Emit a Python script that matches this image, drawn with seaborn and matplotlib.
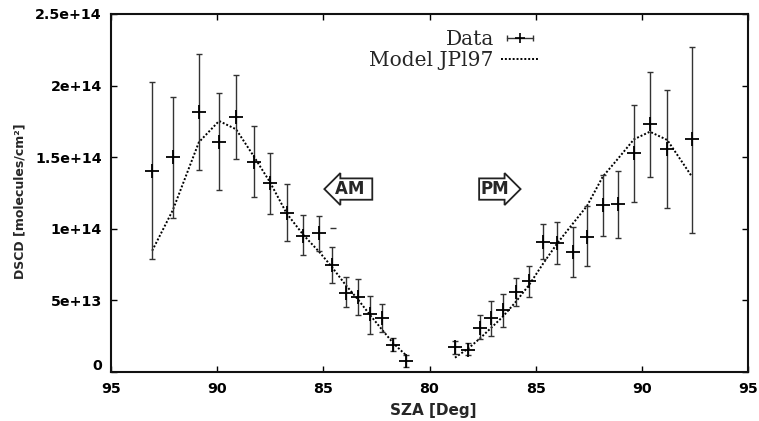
import numpy as np
import pandas as pd
import matplotlib
matplotlib.use("Agg")
import matplotlib.pyplot as plt
import seaborn as sns
from matplotlib.lines import Line2D
from matplotlib.legend_handler import HandlerLine2D, HandlerTuple
from matplotlib.transforms import ScaledTranslation
from matplotlib.font_manager import FontProperties

# Slant column densities in units of 1e13 molecules/cm^2
UNIT = 1e13

# Morning (AM) leg, solar zenith angle in degrees
am_sza = [93.06, 92.09, 90.86, 89.91, 89.11, 88.27, 87.51, 86.73, 85.94,
          85.20, 84.61, 83.95, 83.35, 82.80, 82.22, 81.70, 81.12]
am_dscd = [14.06, 14.99, 18.14, 16.08, 17.83, 14.66, 13.22, 11.08, 9.52,
           9.69, 7.47, 5.54, 5.26, 4.03, 3.75, 1.89, 0.77]
am_low = [7.89, 10.78, 14.11, 12.73, 14.90, 12.20, 11.05, 9.17, 8.17,
          8.47, 6.19, 4.56, 3.98, 2.65, 2.81, 1.47, 0.37]
am_high = [20.25, 19.23, 22.21, 19.46, 20.76, 17.18, 15.31, 13.11, 10.96,
           10.91, 8.71, 6.61, 6.47, 5.33, 4.73, 2.35, 1.19]
am_model = [8.47, 11.30, 16.05, 17.53, 16.95, 15.05, 13.25, 11.08, 9.57,
            8.40, 7.36, 6.08, 5.03, 3.98, 2.93, 2.00, 1.19]

# Evening (PM) leg
pm_sza = [81.20, 81.83, 82.38, 82.88, 83.45, 84.07, 84.69, 85.36, 86.02,
          86.76, 87.42, 88.16, 88.89, 89.63, 90.38, 91.20, 92.36]
pm_dscd = [1.77, 1.54, 3.09, 3.75, 4.33, 5.61, 6.38, 9.06, 8.99,
           8.38, 9.45, 11.66, 11.71, 15.27, 17.32, 15.57, 16.25]
pm_low = [1.26, 1.19, 2.28, 2.53, 3.12, 4.61, 5.26, 7.87, 7.52,
          6.66, 7.42, 9.50, 9.38, 11.85, 13.64, 11.43, 9.69]
pm_high = [2.19, 2.00, 3.98, 4.96, 5.45, 6.59, 7.42, 10.31, 10.50,
           10.10, 11.61, 13.76, 14.04, 18.65, 20.97, 19.69, 22.72]
pm_model = [1.00, 1.65, 2.35, 3.05, 3.86, 4.91, 6.08, 7.59, 8.99,
            10.38, 11.60, 13.64, 14.92, 16.25, 16.78, 16.20, 13.64]

# A lone error-bar cap left in the AM series
stray_sza = [84.53]
stray_dscd = [10.08]

# Axis ticks: the zenith angle runs down to noon and back up again
tick_sza = [95, 90, 85, 80, 85, 90, 95]
tick_side = ["AM", "AM", "AM", "AM", "PM", "PM", "PM"]
ytick_values = [0, 5, 10, 15, 20, 25]
ytick_labels = ["0", "5e+13", "1e+14", "1.5e+14", "2e+14", "2.5e+14"]


def axis_pos(sza, side):
    """Morning angles sit left of noon, evening angles right of it."""
    sza = np.asarray(sza, dtype=float)
    return np.where(np.asarray(side) == "AM", 80.0 - sza, sza - 80.0)


rows = []
for side, sza, val, lo, hi, mod in [
    ("AM", am_sza, am_dscd, am_low, am_high, am_model),
    ("PM", pm_sza, pm_dscd, pm_low, pm_high, pm_model),
]:
    for s, v, l, h, m in zip(sza, val, lo, hi, mod):
        rows.append(dict(side=side, sza=s, dscd=v * UNIT, low=l * UNIT,
                         high=h * UNIT, model=m * UNIT))
df = pd.DataFrame(rows)
df["pos"] = axis_pos(df["sza"], df["side"])

sns.set_theme(style="ticks")
plt.rcParams["font.family"] = ["DejaVu Sans"]
plt.rcParams["font.weight"] = "bold"

fig = plt.figure(figsize=(7.59, 4.21), dpi=100)
ax = fig.add_axes([111 / 759, 1 - 372 / 421, 637 / 759, 358 / 421])

# Model curves, one per leg
for side in ["AM", "PM"]:
    part = df[df["side"] == side]
    sns.lineplot(data=part, x="pos", y="model", sort=False, estimator=None,
                 color="black", lw=1.4, linestyle=(0, (1, 1)), ax=ax,
                 legend=False)

# Measurements with error bars
ax.errorbar(df["pos"], df["dscd"],
            yerr=[df["dscd"] - df["low"], df["high"] - df["dscd"]],
            fmt="none", ecolor="#333333", elinewidth=1.0, capsize=2.5,
            capthick=1.0, zorder=3)
sns.scatterplot(data=df, x="pos", y="dscd", marker="+", s=95,
                color="black", linewidth=1.3, ax=ax, legend=False, zorder=4)
ax.plot(axis_pos(stray_sza, ["AM"]), np.array(stray_dscd) * UNIT,
        ls="none", marker="_", ms=4, mew=1.0, color="#333333")

# Axes, ticks and labels
ax.set_xlim(-15, 15)
ax.set_ylim(0, 2.5e14)
ax.set_xticks(axis_pos(tick_sza, tick_side))
ax.set_xticklabels([str(t) for t in tick_sza])
ax.set_yticks(np.array(ytick_values) * UNIT)
ax.set_yticklabels(ytick_labels)
ax.tick_params(axis="both", direction="in", length=4, width=1.0,
               top=True, right=True, labelsize=10, colors="black")
ax.tick_params(axis="x", pad=7.5)
ax.tick_params(axis="y", pad=6.5)
tick_font = FontProperties(family="DejaVu Sans", weight="bold", size=10.3)
for lab in ax.get_xticklabels() + ax.get_yticklabels():
    lab.set_fontproperties(tick_font)
for sp in ax.spines.values():
    sp.set_linewidth(1.5)
    sp.set_color("#111111")

zero_label = ax.get_yticklabels()[0]
zero_label.set_transform(zero_label.get_transform()
                         + ScaledTranslation(0, 0.08, fig.dpi_scale_trans))

ax.set_xlabel("SZA [Deg]", fontsize=11, fontweight="bold")
ax.xaxis.set_label_coords(0.506, -0.087)
ax.set_ylabel("DSCD [molecules/cm²]", fontsize=9, fontweight="bold")
ax.yaxis.set_label_coords(-0.132, 0.478)

# Morning / evening direction markers
ax.text(0.380, 0.511, "AM ", transform=ax.transAxes, ha="center",
        va="center", fontsize=12, fontweight="bold",
        bbox=dict(boxstyle="larrow,pad=0.1", fc="white", ec="#222222",
                  lw=1.3))
ax.text(0.603, 0.511, "PM", transform=ax.transAxes, ha="center",
        va="center", fontsize=12, fontweight="bold",
        bbox=dict(boxstyle="rarrow,pad=0.1", fc="white", ec="#222222",
                  lw=1.3))

# Key: label first, sample after it
bar_line = Line2D([], [], color="#333333", lw=1.0, marker="|", ms=5, mew=1.0)
bar_mark = Line2D([], [], color="black", ls="none", marker="+", ms=7, mew=1.2)
model_line = Line2D([], [], color="black", lw=1.4, ls=(0, (1, 1)))
ax.legend([(bar_line, bar_mark), model_line], ["Data", "Model JPl97"],
          handler_map={bar_line: HandlerLine2D(numpoints=2),
                       bar_mark: HandlerLine2D(numpoints=1),
                       tuple: HandlerTuple(ndivide=1, pad=0)},
          loc="upper right", bbox_to_anchor=(0.672, 0.955),
          markerfirst=False, frameon=False, borderpad=0, borderaxespad=0,
          handlelength=1.9, handletextpad=0.35, labelspacing=0.1,
          prop={"family": "DejaVu Serif", "size": 14.5, "weight": "normal"})

fig.savefig("out.png", dpi=100)
